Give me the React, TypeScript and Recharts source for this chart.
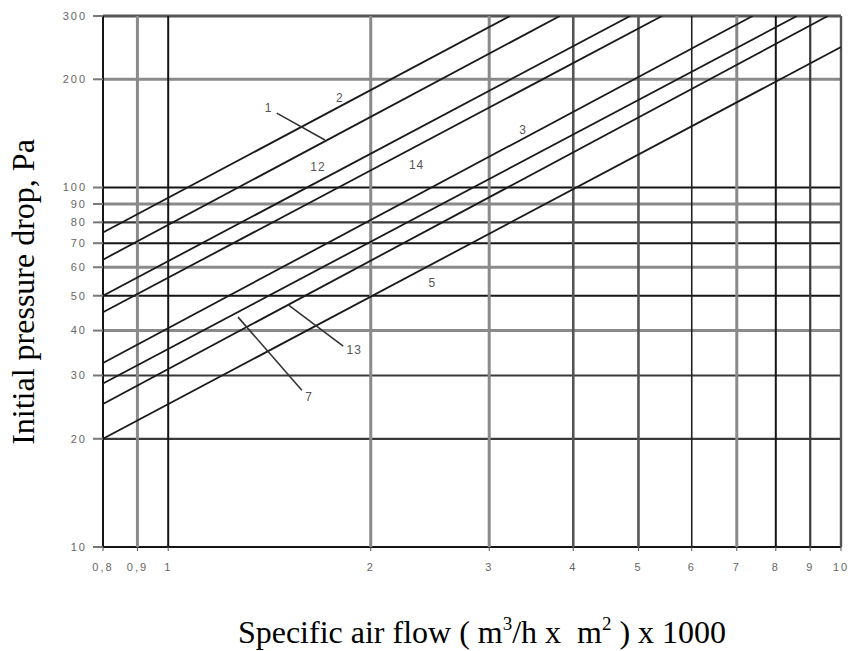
import React from "react";
import { LineChart, Line, XAxis, YAxis, ReferenceLine, ReferenceDot, Label } from "recharts";

// axes
const xTicks = [0.8, 0.9, 1, 2, 3, 4, 5, 6, 7, 8, 9, 10];
const yTicks = [10, 20, 30, 40, 50, 60, 70, 80, 90, 100, 200, 300];

// curves, top to bottom: pressure drop at 0.8 and the point where they leave the grid
const curveStartX = [0.8, 0.8, 0.8, 0.8, 0.8, 0.8, 0.8, 0.8];
const curveStartY = [75, 63, 50, 45, 32.5, 28.5, 25, 20];
const curveEndX = [3.22, 3.82, 4.86, 5.42, 7.39, 8.6, 9.56, 10];
const curveEndY = [300, 300, 300, 300, 300, 300, 300, 246];

// curve numbers written on the chart
const tagText = ["1", "2", "12", "14", "3", "5", "13", "7"];
const tagX = [1.41, 1.8, 1.67, 2.34, 3.37, 2.47, 1.89, 1.62];
const tagY = [167, 178, 114, 115.5, 144.5, 54.3, 35.3, 26.1];

// leader lines for tags 1, 13 and 7
const leaderFromX = [1.45, 1.51, 1.27];
const leaderFromY = [161, 47.1, 43.6];
const leaderToX = [1.71, 1.82, 1.58];
const leaderToY = [135.6, 36.2, 27.3];

const gray = { stroke: "#8a8a8a", strokeWidth: 3 };
const dark = { stroke: "#3a3a3a", strokeWidth: 2.2 };
const black = { stroke: "#151515", strokeWidth: 2 };

const vStyle: Record<number, { stroke: string; strokeWidth: number }> = {
  0.8: black, 0.9: gray, 1: black, 2: gray, 3: gray, 4: { stroke: "#555", strokeWidth: 2.6 },
  5: { stroke: "#555", strokeWidth: 2.6 }, 6: { stroke: "#222", strokeWidth: 1.6 }, 7: gray,
  8: black, 9: dark, 10: { stroke: "#555", strokeWidth: 2.4 },
};
const hStyle: Record<number, { stroke: string; strokeWidth: number }> = {
  10: black, 20: dark, 30: dark, 40: gray, 50: black, 60: gray, 70: black,
  80: dark, 90: gray, 100: black, 200: gray, 300: { stroke: "#555", strokeWidth: 3 },
};

const curves = curveStartY.map((y0, i) => [
  { x: curveStartX[i], y: y0 },
  { x: curveEndX[i], y: curveEndY[i] },
]);

const serif = "'Liberation Serif', 'Times New Roman', serif";
const sans = "'Liberation Sans', Arial, sans-serif";
const tickFont = { fontSize: 11, fill: "#666", fontFamily: sans, letterSpacing: 2 };

export default function App() {
  return (
    <div style={{ position: "absolute", left: 0, top: 0, width: 853, height: 651, background: "#fff" }}>
      <LineChart width={853} height={651} margin={{ top: 16, right: 12, left: 0, bottom: 0 }}>
        <XAxis
          dataKey="x"
          type="number"
          scale="log"
          domain={[0.8, 10]}
          allowDataOverflow
          ticks={xTicks}
          interval={0}
          height={104}
          axisLine={false}
          tickLine={{ stroke: "#555" }}
          tickSize={4}
          tickMargin={12}
          tick={tickFont}
          tickFormatter={(v: number) => String(v).replace(".", ",")}
        >
          <Label
            content={() => (
              <text x={482} y={643} textAnchor="middle" fontFamily={serif} fontSize={32} fill="#000" style={{ whiteSpace: "pre" }}>
                Specific air flow ( m
                <tspan dy={-13} fontSize={19}>3</tspan>
                <tspan dy={13}>/h x  m</tspan>
                <tspan dy={-13} fontSize={19}>2</tspan>
                <tspan dy={13}> ) x 1000</tspan>
              </text>
            )}
          />
        </XAxis>
        <YAxis
          dataKey="y"
          type="number"
          scale="log"
          domain={[10, 300]}
          allowDataOverflow
          ticks={yTicks}
          interval={0}
          width={103}
          axisLine={false}
          tickLine={{ stroke: "#777", strokeWidth: 2 }}
          tickSize={10}
          tickMargin={6}
          tick={tickFont}
        >
          <Label
            content={() => (
              <text transform="translate(34,292) rotate(-90)" textAnchor="middle" fontFamily={serif} fontSize={32} fill="#000">
                Initial pressure drop, Pa
              </text>
            )}
          />
        </YAxis>

        {yTicks.map((v) => (
          <ReferenceLine key={`h${v}`} y={v} stroke={hStyle[v].stroke} strokeWidth={hStyle[v].strokeWidth} ifOverflow="visible" />
        ))}
        {xTicks.map((v) => (
          <ReferenceLine key={`v${v}`} x={v} stroke={vStyle[v].stroke} strokeWidth={vStyle[v].strokeWidth} ifOverflow="visible" />
        ))}

        {curves.map((d, i) => (
          <Line
            key={`c${i}`}
            data={d}
            dataKey="y"
            type="linear"
            stroke="#1a1a1a"
            strokeWidth={1.8}
            dot={false}
            activeDot={false}
            isAnimationActive={false}
          />
        ))}

        {leaderFromX.map((x0, i) => (
          <ReferenceLine
            key={`l${i}`}
            segment={[
              { x: x0, y: leaderFromY[i] },
              { x: leaderToX[i], y: leaderToY[i] },
            ]}
            stroke="#333"
            strokeWidth={1.6}
          />
        ))}

        {tagText.map((t, i) => (
          <ReferenceDot
            key={`t${i}`}
            x={tagX[i]}
            y={tagY[i]}
            r={0}
            fill="none"
            stroke="none"
            label={{ value: t, position: "center", fontSize: 12, fill: "#555", fontFamily: sans, letterSpacing: 1 }}
          />
        ))}
      </LineChart>
    </div>
  );
}
